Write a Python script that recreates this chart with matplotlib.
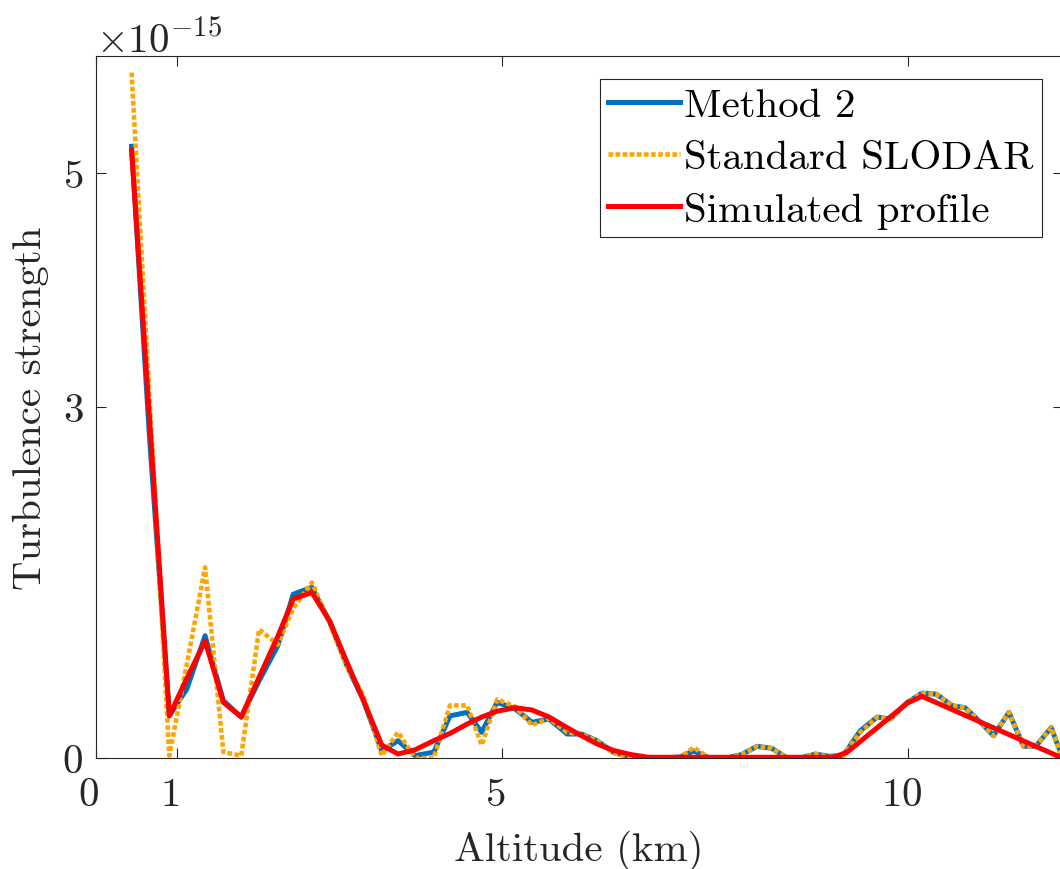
import numpy as np
import matplotlib
matplotlib.use("Agg")
import matplotlib.pyplot as plt
from matplotlib.transforms import ScaledTranslation

# LaTeX-like look (Computer Modern)
plt.rcParams['font.family'] = 'serif'
plt.rcParams['font.serif'] = ['cmr10']
plt.rcParams['mathtext.fontset'] = 'cm'
plt.rcParams['axes.formatter.use_mathtext'] = True
plt.rcParams['axes.unicode_minus'] = False

# altitude grid of the measured profiles (km)
alt_meas = [0.44, 0.66, 0.905, 1.12, 1.345, 1.57, 1.79, 2.01, 2.24, 2.43,
            2.66, 2.88, 3.09, 3.29, 3.52, 3.72, 3.93, 4.16, 4.36, 4.57,
            4.75, 4.94, 5.16, 5.37, 5.58, 5.80, 5.98, 6.17, 6.37, 6.58,
            6.80, 7.03, 7.20, 7.36, 7.55, 7.77, 7.95, 8.14, 8.32, 8.51,
            8.67, 8.86, 9.02, 9.20, 9.41, 9.62, 9.78, 9.99, 10.17, 10.35,
            10.54, 10.70, 10.87, 11.05, 11.24, 11.42, 11.57, 11.76, 11.88]

# turbulence strength, units of 1e-15
method2 = [5.23, 2.75, 0.36, 0.59, 1.045, 0.49, 0.35, 0.66, 0.96, 1.40,
           1.46, 1.16, 0.79, 0.50, 0.06, 0.148, 0.02, 0.05, 0.36, 0.39,
           0.22, 0.476, 0.42, 0.305, 0.333, 0.205, 0.205, 0.148, 0.05, 0.006,
           0.0, 0.0, 0.01, 0.06, 0.0, 0.0, 0.03, 0.10, 0.083, 0.0,
           0.0, 0.034, 0.015, 0.02, 0.233, 0.35, 0.333, 0.476, 0.555, 0.545,
           0.447, 0.43, 0.32, 0.19, 0.39, 0.10, 0.10, 0.26, 0.04]

slodar = [5.86, 3.1, 0.02, 0.80, 1.63, 0.05, 0.02, 1.10, 0.97, 1.28,
          1.50, 1.15, 0.78, 0.54, 0.02, 0.22, 0.0, 0.0, 0.45, 0.45,
          0.11, 0.50, 0.44, 0.28, 0.34, 0.22, 0.20, 0.15, 0.04, 0.01,
          0.0, 0.0, 0.01, 0.09, 0.0, 0.0, 0.03, 0.10, 0.083, 0.0,
          0.0, 0.034, 0.01, 0.02, 0.22, 0.35, 0.333, 0.476, 0.555, 0.545,
          0.447, 0.43, 0.32, 0.19, 0.39, 0.10, 0.10, 0.26, 0.04]

# simulated profile
alt_sim = [0.44, 0.905, 1.12, 1.345, 1.57, 1.79, 2.01, 2.24, 2.43, 2.66,
           2.88, 3.09, 3.29, 3.52, 3.72, 3.93, 4.16, 4.36, 4.57, 4.75,
           4.94, 5.16, 5.37, 5.58, 5.80, 5.98, 6.17, 6.37, 6.58, 6.80,
           9.08, 9.25, 9.99, 10.17, 11.88]
simulated = [5.20, 0.36, 0.68, 1.00, 0.476, 0.35, 0.69, 1.04, 1.36, 1.415,
             1.17, 0.82, 0.50, 0.11, 0.034, 0.07, 0.148, 0.21, 0.29, 0.35,
             0.40, 0.43, 0.41, 0.35, 0.26, 0.19, 0.12, 0.065, 0.03, 0.006,
             0.006, 0.05, 0.47, 0.527, 0.005]

xticks = [0, 1, 5, 10]
yticks = [0, 3, 5]
scale = 1e-15

fig = plt.figure(figsize=(10.6, 8.7), dpi=100)
ax = fig.add_axes([0.0904, 0.1276, 0.912, 0.8066])

ax.plot(alt_meas, np.array(method2) * scale, color='#0072BD', lw=3.6,
        label='Method 2')
ax.plot(alt_meas, np.array(slodar) * scale, color='#FFA500', lw=3.3,
        linestyle=(0, (1, 0.55)), label='Standard SLODAR')
ax.plot(alt_sim, np.array(simulated) * scale, color='#FF0000', lw=3.6,
        label='Simulated profile')

ax.set_xlim(0, 11.9)
ax.set_ylim(0, 6e-15)
ax.set_xticks(xticks)
ax.set_yticks(np.array(yticks) * scale)

fs = 29.5
ax.tick_params(direction='in', length=7, width=0.8, top=True, right=True,
               labelsize=fs, colors='#262626')
ax.tick_params(axis='x', pad=14)
ax.tick_params(axis='y', pad=9)
ax.yaxis.get_offset_text().set_fontsize(fs)
for sp in ax.spines.values():
    sp.set_color('#262626')
    sp.set_linewidth(0.8)

# MATLAB puts the x tick labels a bit left of the ticks
shift = ScaledTranslation(-7 / 100, 0, fig.dpi_scale_trans)
for lab in ax.get_xticklabels():
    lab.set_transform(lab.get_transform() + shift)

ax.set_xlabel('Altitude (km)', fontsize=fs, color='#262626', labelpad=12)
ax.set_ylabel('Turbulence strength', fontsize=fs, color='#262626', labelpad=10)

leg = ax.legend(loc='upper right', bbox_to_anchor=(0.9786, 0.9676),
                borderaxespad=0, fontsize=fs, handlelength=1.75,
                handletextpad=0.1, labelspacing=0.38, borderpad=0.2,
                fancybox=False, framealpha=1, edgecolor='#262626')
leg.get_frame().set_linewidth(0.8)

fig.savefig('out.png', dpi=100)
